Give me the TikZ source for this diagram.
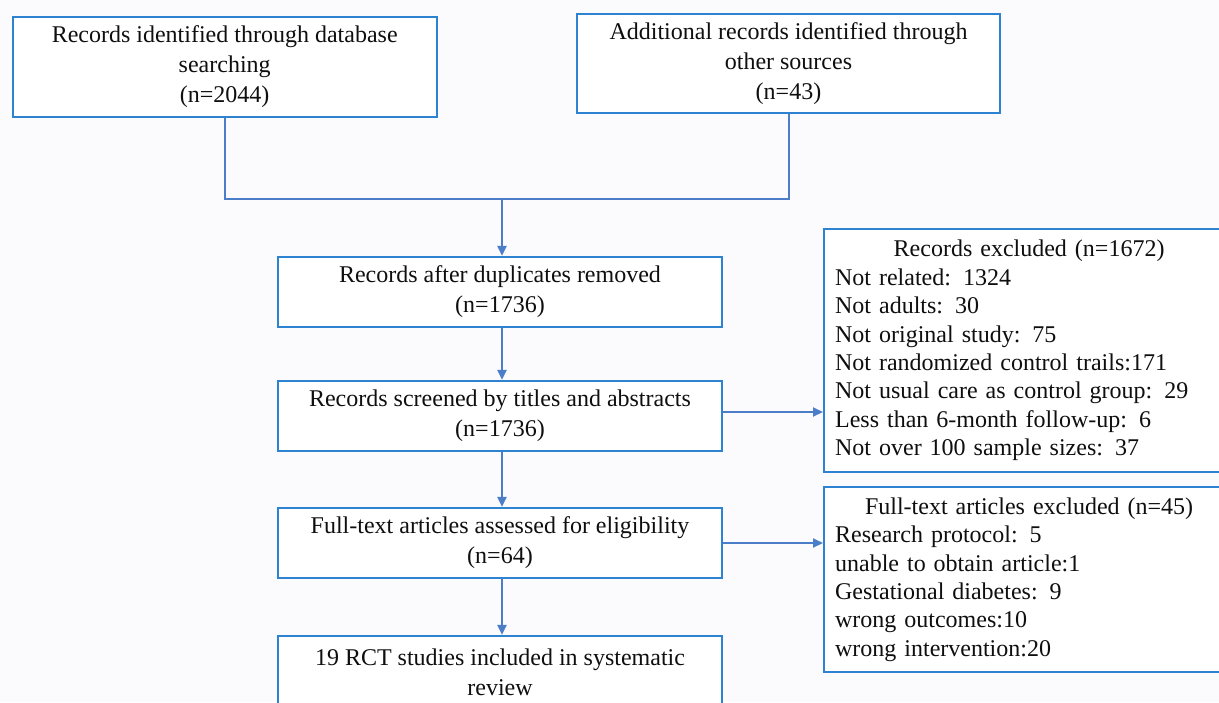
\documentclass[tikz,border=0pt]{standalone}
\usepackage{fontspec}
\setmainfont{Liberation Serif}
\usetikzlibrary{arrows.meta}
\definecolor{boxblue}{RGB}{45,130,210}
\definecolor{lineblue}{RGB}{75,125,200}
\definecolor{bg}{RGB}{251,251,253}
\definecolor{txt}{RGB}{15,15,15}
\begin{document}
\begin{tikzpicture}[x=1pt,y=-1pt,
  box/.style={draw=boxblue, line width=2.2pt, fill=white, text=txt, align=center, inner sep=0pt, font=\fontsize{24}{30}\selectfont},
  listbox/.style={draw=boxblue, line width=2.2pt, fill=white, text=txt, align=left, inner xsep=11pt, inner ysep=0pt, anchor=north west, text width=388pt, font=\fontsize{24}{28.4}\selectfont},
  conn/.style={draw=lineblue, line width=2pt},
  arr/.style={conn, -{Triangle[length=10pt,width=9pt]}}]
\useasboundingbox (0,0) rectangle (1219,702);
\fill[bg] (0,0) rectangle (1219,702);
\begin{scope}
\clip (0,0) rectangle (1219,702);
\node[box, minimum width=424pt, minimum height=100pt] (b1) at (224.7,67) {Records identified through database\\ searching\\ (n=2044)};
\node[box, minimum width=423pt, minimum height=99pt] (b2) at (788.5,63.5) {Additional records identified through\\ other sources\\ (n=43)};
\node[box, minimum width=444pt, minimum height=70pt] (b3) at (500,292) {Records after duplicates removed\\ (n=1736)};
\node[box, minimum width=444pt, minimum height=70pt] (b4) at (500,416) {Records screened by titles and abstracts\\ (n=1736)};
\node[box, minimum width=444pt, minimum height=70pt] (b5) at (500,543) {Full-text articles assessed for eligibility\\ (n=64)};
\node[box, minimum width=444pt, minimum height=72pt] (b6) at (500,672) {19 RCT studies included in systematic\\ review};
\node[listbox, minimum height=243pt] (ea) at (823,228) {\makebox[388pt]{Records excluded (n=1672)}\\
Not related: 1324\\
Not adults: 30\\
Not original study: 75\\
Not randomized control trails:171\\
Not usual care as control group: 29\\
Less than 6-month follow-up: 6\\
Not over 100 sample sizes: 37};
\node[listbox, minimum height=185pt] (eb) at (823,486) {\makebox[388pt]{Full-text articles excluded (n=45)}\\
Research protocol: 5\\
unable to obtain article:1\\
Gestational diabetes: 9\\
wrong outcomes:10\\
wrong intervention:20};
\coordinate (j) at (502,199);
\draw[conn] (b1.south) |- (j);
\draw[conn] (b2.south) |- (j);
\draw[arr] (j) -- (j |- b3.north);
\draw[arr] (b3.south -| j) -- (j |- b4.north);
\draw[arr] (b4.south -| j) -- (j |- b5.north);
\draw[arr] (b5.south -| j) -- (j |- b6.north);
\draw[arr] ([yshift=4pt]b4.east) -- ([yshift=4pt]b4.east -| ea.west);
\draw[arr] (b5.east) -- (b5.east -| eb.west);
\end{scope}
\end{tikzpicture}
\end{document}
